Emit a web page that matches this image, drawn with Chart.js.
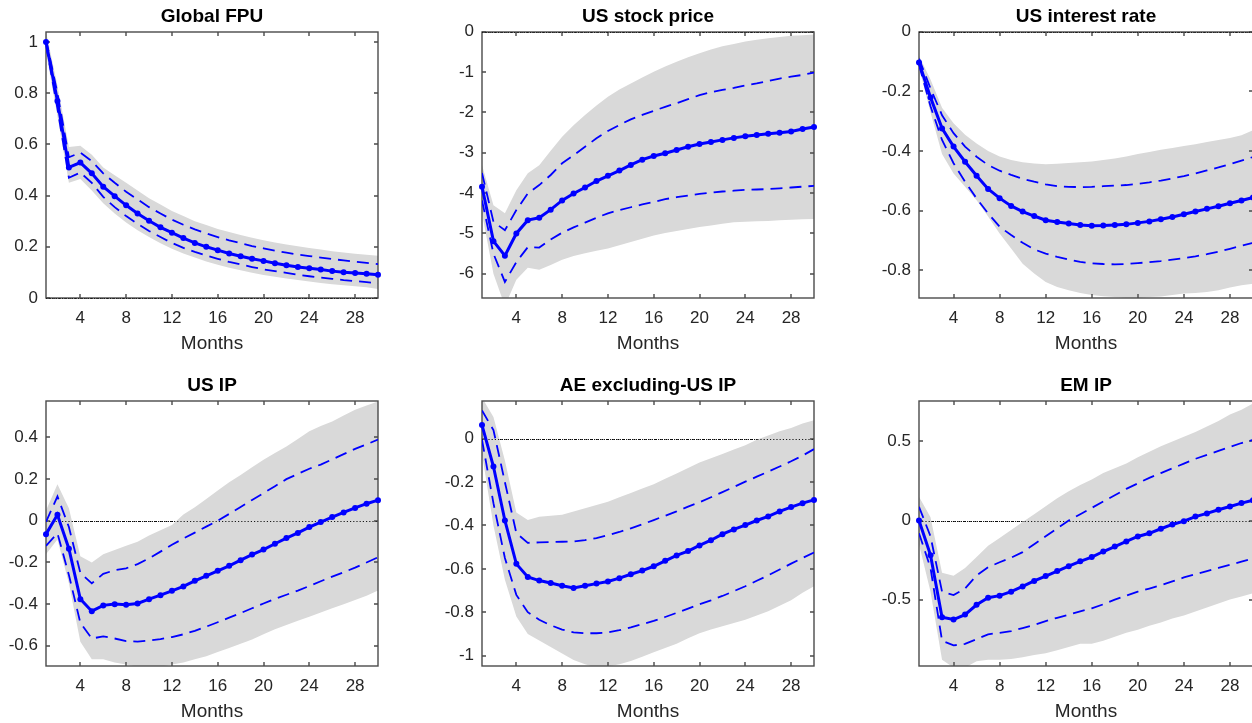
<!DOCTYPE html>
<html>
<head>
<meta charset="utf-8">
<title>Impulse responses to a global FPU shock</title>
<script src="https://cdn.jsdelivr.net/npm/chart.js@4.4.1/dist/chart.umd.min.js"></script>
<style>
    html, body { margin: 0; padding: 0; background: #fff; width: 1252px; height: 723px; overflow: hidden; }
    canvas { position: absolute; }
</style>
</head>
<body>
<canvas id="c0"></canvas>
<canvas id="c1"></canvas>
<canvas id="c2"></canvas>
<canvas id="c3"></canvas>
<canvas id="c4"></canvas>
<canvas id="c5"></canvas>
<script>
// --- data (horizon 1..30 months) ---
const months = [1, 2, 3, 4, 5, 6, 7, 8, 9, 10, 11, 12, 13, 14, 15, 16, 17, 18, 19, 20, 21, 22, 23, 24, 25, 26, 27, 28, 29, 30];
const xTicks = [4, 8, 12, 16, 20, 24, 28];
const titles = ['Global FPU', 'US stock price', 'US interest rate', 'US IP', 'AE excluding-US IP', 'EM IP'];

// Global FPU
const fpuMed = [1.0, 0.77, 0.51, 0.529, 0.487, 0.435, 0.398, 0.362, 0.330, 0.302, 0.276, 0.255, 0.234, 0.215, 0.200, 0.187, 0.174, 0.163, 0.153, 0.145, 0.136, 0.128, 0.121, 0.116, 0.111, 0.105, 0.101, 0.098, 0.095, 0.091];
const fpuUp = [1.01, 0.80, 0.55, 0.568, 0.535, 0.487, 0.450, 0.415, 0.385, 0.355, 0.330, 0.306, 0.286, 0.268, 0.252, 0.238, 0.225, 0.214, 0.203, 0.194, 0.185, 0.177, 0.170, 0.164, 0.158, 0.152, 0.147, 0.142, 0.137, 0.132];
const fpuLo = [0.99, 0.74, 0.47, 0.49, 0.45, 0.395, 0.355, 0.32, 0.29, 0.262, 0.238, 0.215, 0.196, 0.18, 0.166, 0.153, 0.141, 0.131, 0.121, 0.112, 0.105, 0.098, 0.091, 0.085, 0.080, 0.075, 0.070, 0.066, 0.062, 0.057];
const fpuBandUp = [1.04, 0.83, 0.59, 0.595, 0.56, 0.51, 0.48, 0.45, 0.42, 0.39, 0.365, 0.34, 0.32, 0.30, 0.285, 0.27, 0.258, 0.246, 0.235, 0.226, 0.217, 0.209, 0.202, 0.195, 0.189, 0.183, 0.178, 0.173, 0.169, 0.165];
const fpuBandLo = [0.96, 0.71, 0.45, 0.465, 0.42, 0.37, 0.33, 0.295, 0.265, 0.238, 0.214, 0.192, 0.174, 0.158, 0.143, 0.130, 0.118, 0.108, 0.099, 0.090, 0.083, 0.076, 0.070, 0.064, 0.059, 0.054, 0.050, 0.046, 0.042, 0.035];

// US stock price
const stockMed = [-3.84, -5.19, -5.55, -5.0, -4.67, -4.61, -4.41, -4.18, -4.01, -3.86, -3.70, -3.57, -3.44, -3.30, -3.17, -3.08, -3.01, -2.93, -2.85, -2.78, -2.73, -2.68, -2.63, -2.59, -2.56, -2.53, -2.50, -2.47, -2.41, -2.36];
const stockUp = [-3.5, -4.71, -4.92, -4.42, -4.01, -3.80, -3.55, -3.26, -3.06, -2.85, -2.64, -2.46, -2.31, -2.17, -2.06, -1.96, -1.86, -1.77, -1.67, -1.57, -1.50, -1.44, -1.39, -1.33, -1.28, -1.22, -1.16, -1.11, -1.07, -1.01];
const stockLo = [-4.18, -5.5, -6.2, -5.71, -5.34, -5.35, -5.15, -4.98, -4.85, -4.73, -4.61, -4.5, -4.42, -4.35, -4.28, -4.22, -4.15, -4.1, -4.06, -4.02, -3.99, -3.96, -3.94, -3.92, -3.91, -3.90, -3.88, -3.86, -3.84, -3.82];
const stockBandUp = [-3.3, -4.3, -4.5, -3.93, -3.51, -3.31, -2.95, -2.6, -2.32, -2.06, -1.83, -1.61, -1.43, -1.28, -1.13, -0.99, -0.86, -0.74, -0.63, -0.53, -0.44, -0.36, -0.3, -0.24, -0.2, -0.16, -0.13, -0.1, -0.085, -0.07];
const stockBandLo = [-4.5, -6.0, -6.8, -6.15, -5.85, -5.9, -5.78, -5.65, -5.56, -5.49, -5.43, -5.37, -5.29, -5.21, -5.13, -5.05, -4.99, -4.94, -4.89, -4.84, -4.8, -4.76, -4.72, -4.71, -4.7, -4.69, -4.67, -4.66, -4.65, -4.64];

// US interest rate
const rateMed = [-0.103, -0.22, -0.324, -0.385, -0.436, -0.483, -0.527, -0.558, -0.584, -0.603, -0.618, -0.632, -0.638, -0.643, -0.648, -0.651, -0.650, -0.648, -0.646, -0.641, -0.636, -0.629, -0.621, -0.612, -0.603, -0.594, -0.585, -0.575, -0.566, -0.556];
const rateUp = [-0.09, -0.19, -0.28, -0.34, -0.385, -0.419, -0.447, -0.466, -0.48, -0.493, -0.503, -0.512, -0.518, -0.520, -0.521, -0.520, -0.518, -0.516, -0.514, -0.510, -0.505, -0.499, -0.492, -0.484, -0.475, -0.465, -0.455, -0.444, -0.432, -0.42];
const rateLo = [-0.11, -0.25, -0.363, -0.441, -0.503, -0.559, -0.609, -0.654, -0.682, -0.708, -0.730, -0.744, -0.755, -0.764, -0.772, -0.777, -0.779, -0.780, -0.779, -0.776, -0.773, -0.769, -0.764, -0.759, -0.753, -0.746, -0.738, -0.728, -0.718, -0.708];
const rateBandUp = [-0.08, -0.16, -0.255, -0.307, -0.345, -0.375, -0.40, -0.418, -0.43, -0.438, -0.442, -0.444, -0.443, -0.44, -0.438, -0.435, -0.43, -0.425, -0.418, -0.41, -0.403, -0.396, -0.39, -0.383, -0.377, -0.37, -0.363, -0.356, -0.347, -0.33];
const rateBandLo = [-0.12, -0.27, -0.41, -0.475, -0.52, -0.565, -0.62, -0.677, -0.727, -0.778, -0.811, -0.839, -0.856, -0.867, -0.876, -0.883, -0.887, -0.89, -0.893, -0.893, -0.89, -0.888, -0.883, -0.878, -0.876, -0.873, -0.867, -0.858, -0.85, -0.845];

// US IP
const usipMed = [-0.064, 0.029, -0.134, -0.376, -0.434, -0.406, -0.40, -0.403, -0.397, -0.376, -0.357, -0.336, -0.315, -0.288, -0.264, -0.24, -0.216, -0.189, -0.162, -0.138, -0.11, -0.083, -0.058, -0.03, -0.006, 0.018, 0.04, 0.062, 0.082, 0.099];
const usipUp = [-0.005, 0.117, -0.03, -0.25, -0.30, -0.255, -0.237, -0.228, -0.208, -0.18, -0.148, -0.115, -0.085, -0.057, -0.028, 0.0, 0.033, 0.066, 0.1, 0.133, 0.166, 0.2, 0.225, 0.25, 0.27, 0.295, 0.32, 0.345, 0.367, 0.39];
const usipLo = [-0.12, -0.06, -0.26, -0.49, -0.565, -0.555, -0.565, -0.578, -0.58, -0.575, -0.568, -0.558, -0.545, -0.528, -0.508, -0.487, -0.465, -0.443, -0.42, -0.397, -0.375, -0.355, -0.335, -0.313, -0.29, -0.268, -0.247, -0.225, -0.2, -0.175];
const usipBandUp = [0.05, 0.175, 0.06, -0.17, -0.2, -0.16, -0.14, -0.12, -0.1, -0.07, -0.045, -0.02, 0.03, 0.065, 0.105, 0.145, 0.185, 0.22, 0.257, 0.293, 0.325, 0.357, 0.393, 0.43, 0.455, 0.477, 0.505, 0.533, 0.553, 0.573];
const usipBandLo = [-0.16, -0.09, -0.3, -0.58, -0.665, -0.665, -0.68, -0.69, -0.7, -0.705, -0.7, -0.69, -0.68, -0.665, -0.65, -0.63, -0.61, -0.59, -0.57, -0.545, -0.52, -0.5, -0.48, -0.46, -0.44, -0.42, -0.4, -0.38, -0.36, -0.335];

// AE excluding-US IP
const aeMed = [0.063, -0.128, -0.377, -0.577, -0.637, -0.654, -0.665, -0.678, -0.688, -0.678, -0.668, -0.658, -0.643, -0.625, -0.608, -0.588, -0.563, -0.538, -0.518, -0.492, -0.468, -0.44, -0.418, -0.398, -0.377, -0.358, -0.335, -0.315, -0.297, -0.282];
const aeUp = [0.13, 0.04, -0.2, -0.435, -0.48, -0.478, -0.476, -0.475, -0.474, -0.468, -0.458, -0.445, -0.43, -0.413, -0.395, -0.375, -0.355, -0.335, -0.313, -0.293, -0.27, -0.246, -0.222, -0.198, -0.175, -0.152, -0.128, -0.104, -0.078, -0.048];
const aeLo = [-0.005, -0.297, -0.55, -0.72, -0.8, -0.835, -0.86, -0.88, -0.893, -0.897, -0.897, -0.893, -0.883, -0.87, -0.855, -0.84, -0.822, -0.803, -0.783, -0.763, -0.745, -0.725, -0.703, -0.68, -0.655, -0.63, -0.603, -0.576, -0.55, -0.525];
const aeBandUp = [0.19, 0.1, -0.1, -0.34, -0.375, -0.36, -0.355, -0.35, -0.335, -0.32, -0.305, -0.29, -0.27, -0.25, -0.23, -0.21, -0.185, -0.16, -0.135, -0.11, -0.09, -0.07, -0.05, -0.03, -0.005, 0.015, 0.035, 0.05, 0.07, 0.085];
const aeBandLo = [-0.07, -0.4, -0.65, -0.82, -0.9, -0.93, -0.96, -0.99, -1.02, -1.04, -1.055, -1.05, -1.04, -1.025, -1.005, -0.985, -0.965, -0.945, -0.92, -0.897, -0.88, -0.865, -0.85, -0.835, -0.815, -0.795, -0.77, -0.745, -0.71, -0.68];

// EM IP
const emMed = [0.0, -0.219, -0.612, -0.626, -0.595, -0.533, -0.488, -0.475, -0.45, -0.417, -0.382, -0.351, -0.32, -0.289, -0.258, -0.231, -0.196, -0.165, -0.132, -0.101, -0.081, -0.052, -0.025, -0.004, 0.025, 0.045, 0.068, 0.089, 0.11, 0.128];
const emUp = [0.087, -0.1, -0.45, -0.471, -0.43, -0.347, -0.295, -0.264, -0.235, -0.2, -0.15, -0.1, -0.05, 0.0, 0.04, 0.08, 0.12, 0.16, 0.2, 0.235, 0.27, 0.3, 0.33, 0.36, 0.39, 0.415, 0.44, 0.465, 0.49, 0.51];
const emLo = [-0.08, -0.3, -0.76, -0.79, -0.78, -0.75, -0.72, -0.71, -0.70, -0.68, -0.66, -0.636, -0.615, -0.595, -0.575, -0.555, -0.53, -0.5, -0.475, -0.45, -0.43, -0.41, -0.385, -0.36, -0.34, -0.32, -0.3, -0.28, -0.26, -0.24];
const emBandUp = [0.15, 0.02, -0.33, -0.35, -0.3, -0.23, -0.16, -0.11, -0.06, -0.01, 0.04, 0.09, 0.14, 0.185, 0.225, 0.26, 0.3, 0.33, 0.36, 0.4, 0.435, 0.47, 0.5, 0.53, 0.56, 0.595, 0.63, 0.67, 0.7, 0.74];
const emBandLo = [-0.15, -0.45, -0.88, -0.93, -0.93, -0.89, -0.88, -0.88, -0.875, -0.865, -0.85, -0.84, -0.82, -0.8, -0.78, -0.78, -0.76, -0.735, -0.71, -0.69, -0.665, -0.645, -0.62, -0.6, -0.575, -0.55, -0.525, -0.5, -0.48, -0.46];

// axis limits and tick labels
const yMin = [0, -6.6, -0.893, -0.697, -1.048, -0.92];
const yMax = [1.04, 0, 0, 0.576, 0.175, 0.757];
const yTicks = [
    [0, 0.2, 0.4, 0.6, 0.8, 1],
    [-6, -5, -4, -3, -2, -1, 0],
    [-0.8, -0.6, -0.4, -0.2, 0],
    [-0.6, -0.4, -0.2, 0, 0.2, 0.4],
    [-1, -0.8, -0.6, -0.4, -0.2, 0],
    [-0.5, 0, 0.5]
];

const medians = [fpuMed, stockMed, rateMed, usipMed, aeMed, emMed];
const uppers = [fpuUp, stockUp, rateUp, usipUp, aeUp, emUp];
const lowers = [fpuLo, stockLo, rateLo, usipLo, aeLo, emLo];
const bandUppers = [fpuBandUp, stockBandUp, rateBandUp, usipBandUp, aeBandUp, emBandUp];
const bandLowers = [fpuBandLo, stockBandLo, rateBandLo, usipBandLo, aeBandLo, emBandLo];

// --- layout of the 2x3 grid (plot area in page pixels) ---
const plotLeft = [46, 482, 919];
const plotWidth = [332, 332, 334];
const plotTop = [32, 401];
const plotHeight = [266, 265];
const SIDE = 46, TITLE_H = 32, XAXIS_H = 58;

const FONT = "'Liberation Sans', Arial, Helvetica, sans-serif";
const INK = '#262626';
const BLUE = '#0000ff';

// zero line + MATLAB style box with inward ticks, drawn after the grey band
const boxPlugin = {
    id: 'box',
    beforeDatasetsDraw(chart) {
        // dense zero line that the grey band covers
        const {ctx, chartArea: a, scales: {y}} = chart;
        const y0 = Math.round(y.getPixelForValue(0)) + 0.5;
        ctx.save();
        ctx.strokeStyle = '#000';
        ctx.lineWidth = 1;
        ctx.setLineDash([1, 1]);
        ctx.beginPath();
        ctx.moveTo(a.left, y0);
        ctx.lineTo(a.right, y0);
        ctx.stroke();
        ctx.restore();
    },
    beforeDatasetDraw(chart, args) {
        if (args.index !== 2) return;
        const {ctx, chartArea: a, scales: {x, y}} = chart;
        const L = Math.round(a.left), R = Math.round(a.right);
        const T = Math.round(a.top), B = Math.round(a.bottom);
        ctx.save();
        ctx.strokeStyle = '#4a4a4a';
        ctx.lineWidth = 1.4;
        ctx.strokeRect(L, T, R - L, B - T);
        ctx.beginPath();
        xTicks.forEach(v => {
            const px = Math.round(x.getPixelForValue(v));
            ctx.moveTo(px, B); ctx.lineTo(px, B - 4);
            ctx.moveTo(px, T); ctx.lineTo(px, T + 4);
        });
        y.ticks.forEach(t => {
            const py = Math.round(y.getPixelForValue(t.value));
            ctx.moveTo(L, py); ctx.lineTo(L + 4, py);
            ctx.moveTo(R, py); ctx.lineTo(R - 4, py);
        });
        ctx.stroke();
        // dotted zero line on top of the band
        const y0 = Math.round(y.getPixelForValue(0)) + 0.5;
        ctx.strokeStyle = '#1a1a1a';
        ctx.lineWidth = 1;
        ctx.setLineDash([1.2, 2]);
        ctx.beginPath();
        ctx.moveTo(a.left, y0);
        ctx.lineTo(a.right, y0);
        ctx.stroke();
        ctx.restore();
    }
};

for (let i = 0; i < 6; i++) {
    const col = i % 3, row = Math.floor(i / 3);
    const canvas = document.getElementById('c' + i);
    const w = SIDE + plotWidth[col] + SIDE;
    const h = TITLE_H + plotHeight[row] + XAXIS_H;
    canvas.width = w;
    canvas.height = h;
    canvas.style.width = w + 'px';
    canvas.style.height = h + 'px';
    canvas.style.left = (plotLeft[col] - SIDE) + 'px';
    canvas.style.top = (plotTop[row] - TITLE_H) + 'px';

    const tickList = yTicks[i];

    new Chart(canvas.getContext('2d'), {
        type: 'line',
        data: {
            labels: months,
            datasets: [
                {
                    data: medians[i],
                    borderColor: BLUE,
                    backgroundColor: BLUE,
                    borderWidth: 3,
                    pointRadius: 3,
                    pointBorderWidth: 0,
                    pointBackgroundColor: BLUE,
                    tension: 0,
                    fill: false,
                    clip: false,
                    order: 0
                },
                {
                    data: uppers[i],
                    borderColor: BLUE,
                    borderWidth: 1.8,
                    borderDash: [12, 7],
                    pointRadius: 0,
                    tension: 0,
                    fill: false,
                    order: 1
                },
                {
                    data: lowers[i],
                    borderColor: BLUE,
                    borderWidth: 1.8,
                    borderDash: [12, 7],
                    pointRadius: 0,
                    tension: 0,
                    fill: false,
                    order: 1
                },
                {
                    data: bandUppers[i],
                    borderColor: 'rgba(0,0,0,0)',
                    borderWidth: 0,
                    backgroundColor: '#d9d9d9',
                    pointRadius: 0,
                    tension: 0,
                    fill: '+1',
                    order: 2
                },
                {
                    data: bandLowers[i],
                    borderColor: 'rgba(0,0,0,0)',
                    borderWidth: 0,
                    pointRadius: 0,
                    tension: 0,
                    fill: false,
                    order: 2
                }
            ]
        },
        options: {
            responsive: false,
            animation: false,
            events: [],
            layout: { padding: 0 },
            plugins: {
                legend: { display: false },
                tooltip: { enabled: false },
                title: {
                    display: true,
                    text: titles[i],
                    color: '#000',
                    font: { family: FONT, size: 19, weight: 'bold' },
                    padding: { top: 5, bottom: 4 }
                }
            },
            scales: {
                x: {
                    type: 'linear',
                    min: 1,
                    max: 30,
                    afterBuildTicks: s => { s.ticks = xTicks.map(v => ({ value: v })); },
                    afterFit: s => { s.height = XAXIS_H; },
                    grid: { display: false, drawTicks: false },
                    border: { display: false },
                    ticks: {
                        color: INK,
                        padding: 10,
                        maxRotation: 0,
                        autoSkip: false,
                        font: { family: FONT, size: 17 },
                        callback: v => String(v)
                    },
                    title: {
                        display: true,
                        text: 'Months',
                        color: INK,
                        font: { family: FONT, size: 19 },
                        padding: { top: 0, bottom: 1 }
                    }
                },
                y: {
                    type: 'linear',
                    min: yMin[i],
                    max: yMax[i],
                    afterBuildTicks: s => { s.ticks = tickList.map(v => ({ value: v })); },
                    afterFit: s => { s.width = SIDE; },
                    grid: { display: false, drawTicks: false },
                    border: { display: false },
                    ticks: {
                        color: INK,
                        padding: 8,
                        autoSkip: false,
                        font: { family: FONT, size: 17 },
                        callback: v => String(v)
                    }
                },
                // empty right-hand strip, same width as the left axis, so the title sits centred over the box
                yPad: {
                    type: 'linear',
                    position: 'right',
                    display: true,
                    afterFit: s => { s.width = SIDE; },
                    grid: { display: false, drawTicks: false },
                    border: { display: false },
                    ticks: { display: false }
                }
            }
        },
        plugins: [boxPlugin]
    });
}
</script>
</body>
</html>
